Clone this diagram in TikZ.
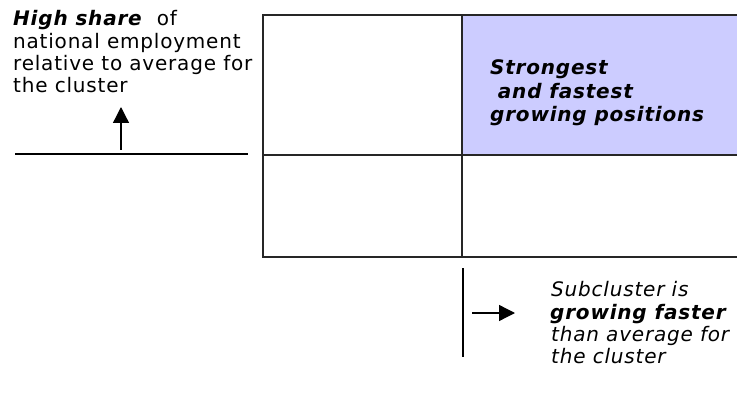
\documentclass[tikz,border=0pt]{standalone}
\usepackage{fontspec}
\setmainfont{DejaVu Sans}[LetterSpace=4]
\usetikzlibrary{arrows.meta}
\definecolor{lav}{HTML}{CCCCFF}
\begin{document}
\begin{tikzpicture}[x=1pt,y=-1pt,
  gridline/.style={line width=1.4pt,draw=black!85},
  axisline/.style={line width=1.3pt,draw=black},
  arr/.style={line width=1.3pt,-{Triangle[length=16pt,width=16pt]}},
  txt/.style={anchor=base west,inner sep=0pt,font=\fontsize{20}{22}\selectfont},
  bi/.style={txt,font=\fontsize{20}{22}\selectfont\bfseries\itshape},
  it/.style={txt,font=\fontsize{20}{22}\selectfont\itshape}]
\useasboundingbox (0,0) rectangle (737,401);
% quadrant grid
\fill[lav] (462,15) rectangle (737,155);
\coordinate (tl) at (263,15); \coordinate (tr) at (737,15);
\coordinate (ml) at (263,155); \coordinate (mr) at (737,155);
\coordinate (bl) at (263,257); \coordinate (br) at (737,257);
\coordinate (tm) at (462,15); \coordinate (bm) at (462,257);
\draw[gridline] (tr) -- (tl) -- (bl) -- (br);
\draw[gridline] (ml) -- (mr);
\draw[gridline] (tm) -- (bm);
% left axis
\coordinate (la) at (15,154); \coordinate (lb) at (248,154);
\draw[axisline] (la) -- (lb);
\coordinate (ua) at (121,150); \coordinate (ub) at (121,107);
\draw[arr] (ua) -- (ub);
% lower axis
\coordinate (va) at (463,268); \coordinate (vb) at (463,357);
\draw[axisline] (va) -- (vb);
\coordinate (ra) at (472,313); \coordinate (rb) at (515,313);
\draw[arr] (ra) -- (rb);
% left text
\node[txt] (h1) at (13,26) {\textbf{\textit{High share}}\ \ of};
\node[txt] (h2) at (13,48.5) {national employment};
\node[txt] (h3) at (13,71) {relative to average for};
\node[txt] (h4) at (13,93) {the cluster};
% quadrant text
\node[bi] (s1) at (490,75) {Strongest};
\node[bi] (s2) at (490,98.5) {\ and fastest};
\node[bi] (s3) at (490,122) {growing positions};
% lower-right text
\node[it] (g1) at (551,296) {Subcluster is};
\node[bi] (g2) at (550,319) {growing faster};
\node[it] (g3) at (551,341) {than average for};
\node[it] (g4) at (551,363) {the cluster};
\end{tikzpicture}
\end{document}
